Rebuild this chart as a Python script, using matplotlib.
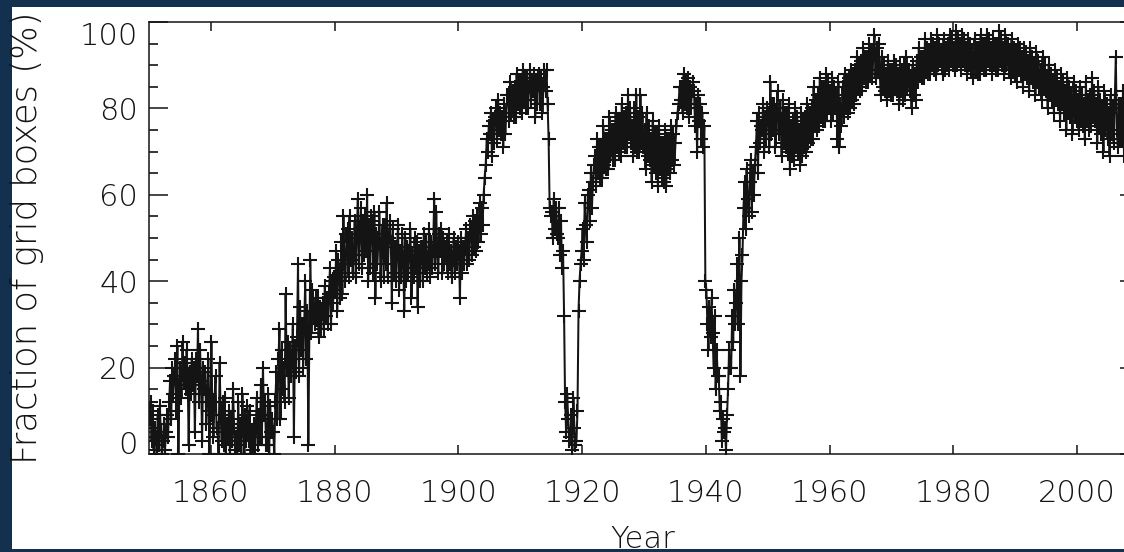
import numpy as np
import matplotlib
matplotlib.use("Agg")
import matplotlib.pyplot as plt
from matplotlib.patches import Rectangle
from matplotlib import font_manager as fm

# ---- data: fraction of grid boxes with data (%), bimonthly readings, 1850-2009 ----
cov_1850s = [8,12,3,10,1,6, 4,0,9,2,11,5, 0,3,7,1,5,9, 4,12,17,8,20,14, 18,22,10,25,0,16,
             20,13,26,17,21,15, 24,18,2,19,14,22, 16,20,5,22,18,29, 12,24,17,3,20,15, 19,7,14,22,0,10]
cov_1860s = [26,9,4,12,18,6, 5,0,21,9,3,12, 2,13,0,7,4,10, 0,8,3,15,6,1, 4,0,12,2,7,0,
             14,6,0,9,3,11, 3,10,0,5,1,7, 0,6,13,2,9,4, 16,4,20,9,12,2, 2,14,0,11,5,8]
cov_1870s = [5,0,12,19,8,22, 29,8,24,15,20,12, 37,20,26,13,24,18, 22,30,4,25,19,27, 44,18,34,24,30,20,
             30,40,22,33,2,28, 45,28,38,33,30,36, 31,36,27,34,29,33, 35,29,39,32,36,30, 37,43,30,40,35,41]
cov_1880s = [38,47,33,45,42,36, 49,37,55,44,40,51, 52,41,55,45,50,42, 46,54,41,51,59,44, 52,57,43,54,46,55,
             47,60,40,53,43,55, 54,42,56,36,51,44, 50,56,40,48,53,41, 53,44,58,41,50,54, 49,35,52,42,48,40]
cov_1890s = [48,53,38,47,41,51, 45,33,50,40,48,42, 47,52,36,46,41,50, 43,49,34,47,40,48, 48,40,51,43,49,42,
             44,52,41,49,43,47, 59,44,56,47,42,51, 47,52,42,50,44,48, 49,42,51,44,47,41, 45,50,42,48,44,49]
cov_1900s = [47,36,50,42,48,44, 48,52,44,50,45,53, 52,46,55,48,54,47, 55,49,58,51,57,53, 60,64,67,73,70,76,
             74,79,69,77,72,78, 80,73,82,75,79,74, 78,71,81,74,79,83, 83,77,86,79,84,78, 85,78,88,81,86,80]
cov_1910s = [86,79,89,82,87,80, 87,80,85,89,82,86, 84,88,78,86,81,87, 88,81,87,79,85,89, 84,89,81,73,57,55,
             56,50,59,52,57,51, 50,57,46,54,43,47, 32,12,5,14,8,3, 4,9,1,13,6,2, 3,10,33,40,44,47]
cov_1920s = [52,45,58,53,49,60, 61,54,65,57,63,67, 69,62,73,65,71,64, 71,64,76,67,73,66, 73,66,78,69,75,68,
             75,68,79,71,77,70, 77,69,81,72,78,71, 79,71,83,74,80,72, 76,69,80,71,83,70, 78,70,83,72,79,71]
cov_1930s = [75,66,79,69,76,68, 73,63,77,67,74,65, 74,62,76,66,72,64, 72,63,75,62,73,66, 73,65,76,68,74,67,
             72,76,79,81,85,82, 85,79,88,81,86,80, 87,78,85,80,84,86, 84,76,81,70,83,77, 81,73,79,71,76,40]
cov_1940s = [38,30,24,34,27,36, 28,20,32,15,24,18, 18,10,12,3,8,5, 6,1,9,15,24,20, 20,32,26,38,30,35,
             44,30,50,18,40,46, 57,63,52,66,59,55, 63,68,56,65,60,67, 71,77,65,79,72,76, 75,81,70,78,73,80]
cov_1950s = [79,71,86,74,81,75, 81,71,79,84,74,80, 77,69,82,72,79,71, 79,70,81,66,76,69, 77,68,80,71,78,70,
             75,67,79,69,77,71, 78,70,81,72,79,73, 80,73,85,76,82,75, 83,76,87,78,85,77, 85,77,88,79,86,80]
cov_1960s = [84,77,87,79,85,80, 83,73,86,71,81,76, 85,78,88,80,86,79, 87,80,89,82,88,81, 89,83,92,85,90,84,
             91,85,94,87,92,86, 92,86,95,88,93,87, 93,97,87,94,89,95, 89,83,92,85,90,84, 88,82,91,84,89,83]
cov_1970s = [89,83,91,85,90,84, 88,81,90,84,89,82, 90,83,92,85,89,84, 87,80,90,83,88,82, 91,86,94,88,92,87,
             92,87,96,89,94,88, 93,88,96,90,95,89, 94,88,97,90,95,91, 93,88,96,89,94,90, 95,89,97,91,96,90]
cov_1980s = [94,89,98,90,96,91, 95,89,97,91,96,90, 94,88,96,90,95,89, 93,87,96,89,94,88, 94,88,97,90,95,89,
             95,89,97,91,96,90, 94,88,96,90,95,89, 95,89,98,91,96,90, 94,88,97,90,95,89, 93,87,96,89,94,88]
cov_1990s = [93,86,95,89,94,88, 92,85,94,88,93,87, 91,84,94,87,92,86, 90,83,93,86,91,85, 89,82,92,85,90,84,
             87,80,90,83,88,82, 86,79,89,82,87,81, 85,77,88,81,86,79, 84,75,87,79,85,78, 83,74,86,78,84,77]
cov_2000s = [82,75,85,77,83,76, 81,73,86,77,82,75, 83,76,87,78,84,77, 81,72,85,76,82,74, 80,70,84,75,81,73,
             79,69,83,74,80,72, 82,92,75,71,81,73, 81,73,84,69,79,74, 80,72,83,75,81,73, 81,74,84,76,82,75]

start_year = 1850
per_year = 6
x_ticks = [1860, 1880, 1900, 1920, 1940, 1960, 1980, 2000]
y_ticks = [0, 20, 40, 60, 80, 100]

cov = np.array(cov_1850s + cov_1860s + cov_1870s + cov_1880s + cov_1890s + cov_1900s +
               cov_1910s + cov_1920s + cov_1930s + cov_1940s + cov_1950s + cov_1960s +
               cov_1970s + cov_1980s + cov_1990s + cov_2000s, dtype=float)
t = start_year + (np.arange(cov.size) + 0.5) / per_year

# ---- font ----
fp = fm.FontProperties(family="DejaVu Sans", weight="light")
try:
    path = fm.findfont(fp, fallback_to_default=False)
    weight = "light" if ("Light" in path or "light" in path) else "normal"
except Exception:
    weight = "normal"
plt.rcParams["font.family"] = ["DejaVu Sans"]
plt.rcParams["font.weight"] = weight

W, H = 1124, 552
navy = "#13304f"
ink = "#141414"
fig = plt.figure(figsize=(W / 100, H / 100), dpi=100, facecolor=navy)
fig.add_artist(Rectangle((12 / W, 3 / H), 1.0, 542 / H, transform=fig.transFigure,
                         facecolor="white", edgecolor="none", zorder=0))

ax = fig.add_axes([149 / W, 98 / H, 990 / W, 432 / H])
ax.set_facecolor("white")
ax.plot(t, cov, color=ink, lw=1.45, marker="+", ms=10.5, mew=1.5, clip_on=True)

ax.set_xlim(1850, 2010)
ax.set_ylim(0, 100)
ax.set_xticks(x_ticks)
ax.set_xticklabels([str(v) for v in x_ticks])
ax.set_yticks(y_ticks)
ax.set_yticklabels([str(v) for v in y_ticks])
ax.set_yticks(np.arange(0, 101, 5), minor=True)

ax.tick_params(axis="x", which="major", direction="in", length=6.2, width=1.1,
               top=True, bottom=True, pad=18, labelsize=22, colors=ink)
ax.tick_params(axis="y", which="major", direction="in", length=13.7, width=1.1,
               left=True, right=True, pad=8, labelsize=22, colors=ink)
ax.tick_params(axis="y", which="minor", direction="in", length=6.8, width=1.1,
               left=True, right=True)
for s in ax.spines.values():
    s.set_linewidth(1.1)
    s.set_color(ink)

ticks = ax.yaxis.get_major_ticks()
ticks[0].label1.set_verticalalignment("baseline")
ticks[-1].label1.set_verticalalignment("top")

fig.text(27 / W, 1 - 238 / H, "Fraction of grid boxes (%)", rotation=90,
         ha="center", va="center", fontsize=25.5, color=ink)
fig.text(643 / W, 4 / H, "Year", ha="center", va="baseline", fontsize=22, color=ink)

fig.savefig("out.png", dpi=100, facecolor=fig.get_facecolor())
